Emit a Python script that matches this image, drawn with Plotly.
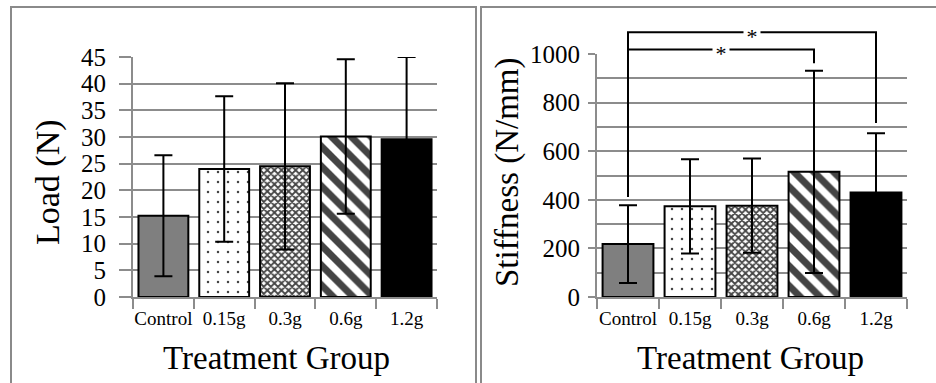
import plotly.graph_objects as go

# ---------------- data ----------------
groups = ["Control", "0.15g", "0.3g", "0.6g", "1.2g"]
load_mean = [15.25, 24.0, 24.5, 30.1, 29.6]
load_sd = [11.35, 13.65, 15.6, 14.5, 15.4]
stiff_mean = [218, 373, 376, 515, 430]
stiff_sd = [160, 194, 194, 416, 244]
load_ticks = [0, 5, 10, 15, 20, 25, 30, 35, 40, 45]
stiff_ticks = [0, 200, 400, 600, 800, 1000]
stiff_minor = [100, 300, 500, 700, 900]
# significance brackets (from Control to group), bracket heights and drop ends
sig_to = ["0.6g", "1.2g"]
sig_level = [1019, 1089]
sig_ctrl_end = [412, 412]
sig_grp_end = [962, 716]
sig_label = ["*", "*"]

# ---------------- styles ----------------
W, H = 936, 383
FONT = "Liberation Serif"
GRID = "#8c8c8c"
bar_colors = ["#7f7f7f", "white", "white", "white", "black"]
pat_shape = ["", ".", "x", "\\", ""]
pat_size = [10, 10, 5, 14, 10]
pat_solid = [0.3, 0.05, 0.6, 0.5, 0.3]


def px_x(p):
    return p / W


def px_y(p):
    return 1 - p / H


fig = go.Figure()

err_style = dict(type="data", color="black", thickness=2, width=9)
marker_style = dict(
    color=bar_colors,
    line=dict(color="black", width=2),
    pattern=dict(shape=pat_shape, size=pat_size, solidity=pat_solid,
                 fgcolor="black", fgopacity=1, fillmode="overlay"),
)

fig.add_trace(go.Bar(x=groups, y=load_mean, marker=marker_style,
                     error_y=dict(array=load_sd, **err_style),
                     xaxis="x", yaxis="y", showlegend=False))
fig.add_trace(go.Bar(x=groups, y=stiff_mean, marker=marker_style,
                     error_y=dict(array=stiff_sd, **err_style),
                     xaxis="x2", yaxis="y2", showlegend=False))

# brackets on overlay axes with the same scale as y2
for g, lvl, ce, ge in zip(sig_to, sig_level, sig_ctrl_end, sig_grp_end):
    fig.add_trace(go.Scatter(x=["Control", "Control", g, g], y=[ce, lvl, lvl, ge],
                             mode="lines", line=dict(color="black", width=2),
                             xaxis="x3", yaxis="y3", showlegend=False,
                             hoverinfo="skip"))

# layout geometry (pixels)
L_left, L_right = 133, 437
R_left, R_right = 597, 907
y_bottom = 297
L_top = 57
R_top = 54
B_top = 20
R3 = 1000 * (y_bottom - B_top) / (y_bottom - R_top)

common_x = dict(type="category", tickson="boundaries", ticks="outside", ticklen=10,
                tickcolor=GRID, tickwidth=2, showline=True, linecolor=GRID, linewidth=2,
                showgrid=False, tickfont=dict(family=FONT, size=19, color="black"),
                tickangle=0, automargin=False, ticklabelstandoff=3,
                categoryorder="array", categoryarray=groups, fixedrange=True)

fig.update_layout(
    width=W, height=H, margin=dict(l=0, r=0, t=0, b=0),
    font=dict(family=FONT, color="black"),
    paper_bgcolor="white", plot_bgcolor="rgba(0,0,0,0)",
    bargap=0.18,
    xaxis=dict(domain=[px_x(L_left), px_x(L_right)], anchor="y", **common_x),
    yaxis=dict(domain=[px_y(y_bottom), px_y(L_top)], anchor="x", range=[0, 45],
               tickmode="array", tickvals=load_ticks, ticks="outside", ticklen=12,
               tickcolor=GRID, tickwidth=2, showgrid=True, gridcolor=GRID, gridwidth=2,
               showline=True, linecolor=GRID, linewidth=2, zeroline=False, automargin=False,
               tickfont=dict(family=FONT, size=25, color="black"), ticklabelstandoff=8),
    xaxis2=dict(domain=[px_x(R_left), px_x(R_right)], anchor="y2", **common_x),
    yaxis2=dict(domain=[px_y(y_bottom), px_y(R_top)], anchor="x2", range=[0, 1000],
                tickmode="array", tickvals=stiff_ticks, ticks="outside", ticklen=7,
                tickcolor=GRID, tickwidth=2, showgrid=True, gridcolor=GRID, gridwidth=2,
                minor=dict(tickmode="array", tickvals=stiff_minor, showgrid=True,
                           gridcolor=GRID, gridwidth=2, ticks=""),
                showline=True, linecolor=GRID, linewidth=2, zeroline=False, automargin=False,
                tickfont=dict(family=FONT, size=25, color="black"), ticklabelstandoff=3),
    xaxis3=dict(domain=[px_x(R_left), px_x(R_right)], anchor="y3", type="category",
                categoryorder="array", categoryarray=groups, range=[-0.5, len(groups) - 0.5],
                visible=False, automargin=False),
    yaxis3=dict(domain=[px_y(y_bottom), px_y(B_top)], anchor="x3", range=[0, R3],
                visible=False, automargin=False),
)

# asterisks
for g, lvl, lab in zip(sig_to, sig_level, sig_label):
    i = groups.index(g)
    fig.add_annotation(x=(0 + i) / 2, y=lvl, xref="x3", yref="y3", text=lab,
                       xanchor="center", yanchor="middle",
                       showarrow=False, bgcolor="white", borderpad=0, width=16, height=14,
                       yshift=-4, font=dict(family=FONT, size=22, color="black"))

# axis titles
title_font = dict(family=FONT, size=33, color="black")
fig.add_annotation(x=px_x(48), y=px_y(182), xref="paper", yref="paper", text="Load (N)",
                   xanchor="center", yanchor="middle",
                   textangle=-90, showarrow=False, font=dict(family=FONT, size=34, color="black"))
fig.add_annotation(x=px_x(507), y=px_y(172), xref="paper", yref="paper", text="Stiffness (N/mm)",
                   xanchor="center", yanchor="middle",
                   textangle=-90, showarrow=False, font=title_font)
fig.add_annotation(x=px_x(276), y=px_y(358), xref="paper", yref="paper", text="Treatment Group",
                   xanchor="center", yanchor="middle", showarrow=False, font=title_font)
fig.add_annotation(x=px_x(750), y=px_y(358), xref="paper", yref="paper", text="Treatment Group",
                   xanchor="center", yanchor="middle", showarrow=False, font=title_font)

# panel borders
fig.add_shape(type="rect", xref="paper", yref="paper", x0=px_x(11), x1=px_x(476),
              y0=-0.05, y1=px_y(7), line=dict(color="#8a8a8a", width=2))
fig.add_shape(type="rect", xref="paper", yref="paper", x0=px_x(481), x1=1.05,
              y0=-0.05, y1=px_y(7), line=dict(color="#8a8a8a", width=2))

fig.write_html("out.html")
